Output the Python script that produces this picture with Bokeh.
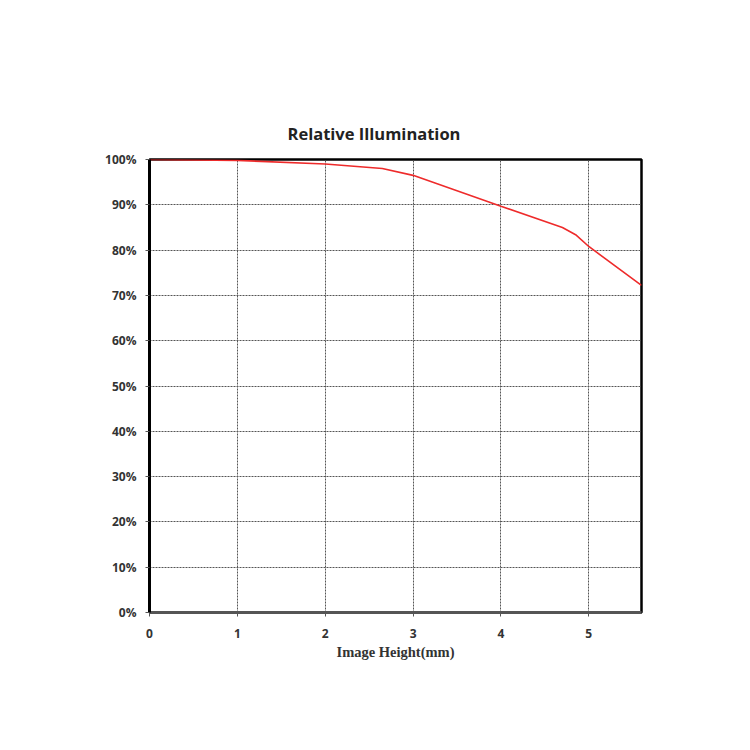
from bokeh.plotting import figure
from bokeh.models import Range1d, FixedTicker, PrintfTickFormatter
from bokeh.embed import file_html
from bokeh.resources import INLINE

image_height = [0.0, 1.0, 2.0, 2.65, 3.0, 4.0, 4.7, 4.85, 5.0, 5.6]
illumination = [100.0, 99.8, 99.0, 98.0, 96.5, 89.7, 85.0, 83.4, 80.8, 72.2]
x_ticks = [0, 1, 2, 3, 4, 5]
y_ticks = [0, 10, 20, 30, 40, 50, 60, 70, 80, 90, 100]

p = figure(width=742, height=742, output_backend="svg", toolbar_location=None,
           x_range=Range1d(0, 5.6), y_range=Range1d(0, 100),
           min_border_left=149, min_border_right=101, min_border_top=159, min_border_bottom=130,
           title="Relative Illumination")
p.frame_width = 492
p.frame_height = 453

p.title.align = "left"
p.title.text_font = "Open Sans"
p.title.text_font_style = "bold"
p.title.text_font_size = "16.5px"
p.title.text_color = "#222222"
p.title.offset = 138
p.title.standoff = 30

p.line(image_height, illumination, line_color="#ee2b2b", line_width=1.6)

p.xaxis.ticker = FixedTicker(ticks=x_ticks)
p.yaxis.ticker = FixedTicker(ticks=y_ticks)
p.yaxis.formatter = PrintfTickFormatter(format="%d%%")

for ax in (p.xaxis, p.yaxis):
    ax.major_label_text_font = "Open Sans"
    ax.major_label_text_font_style = "bold"
    ax.major_label_text_font_size = "12px"
    ax.major_label_text_color = "#333333"
    ax.minor_tick_line_color = None
    ax.major_tick_in = 0
    ax.major_tick_out = 4
    ax.major_tick_line_color = "#555555"

p.yaxis.axis_line_color = "black"
p.yaxis.axis_line_width = 3
p.xaxis.axis_line_color = "#555555"
p.xaxis.axis_line_width = 3
p.xaxis.major_label_standoff = 12
p.yaxis.major_label_standoff = 9

p.xaxis.axis_label = "Image Height(mm)"
p.xaxis.axis_label_text_font = "Liberation Serif"
p.xaxis.axis_label_text_font_style = "bold"
p.xaxis.axis_label_text_font_size = "14.5px"
p.xaxis.axis_label_text_color = "#333333"
p.xaxis.axis_label_standoff = 3

p.grid.grid_line_color = "#555555"
p.grid.grid_line_dash = "2 1"
p.grid.grid_line_width = 1

p.outline_line_color = "black"
p.outline_line_width = 2.5
p.outline_line_alpha = 1

open("out.html", "w").write(file_html(p, INLINE))
